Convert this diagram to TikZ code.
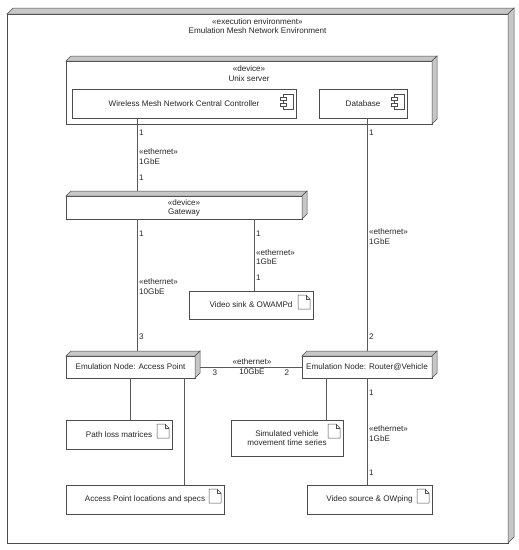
\documentclass[tikz,border=0pt]{standalone}
\usepackage{fontspec}
\setmainfont{Liberation Sans}
\usetikzlibrary{calc}
\tikzset{
  every node/.style={font=\fontsize{8.1}{9.2}\selectfont, text=black!85},
  ln/.style={draw=black!65, line width=0.6pt},
  front/.style={draw=black!70, fill=white, line width=0.6pt, rectangle, inner sep=0pt, outer sep=0pt},
  face/.style={draw=black!70, fill=black!22, line width=0.5pt},
  icon/.style={draw=black!70, fill=white, line width=0.5pt},
  lbl/.style={anchor=west, inner sep=1pt, align=left},
  ctr/.style={align=center, inner sep=0pt},
}
\newcommand\mkfaces[2]{%
  \filldraw[face] (#1.north west) -- ++(#2,-#2) -- ($(#1.north east)+(#2,-#2)$) -- (#1.north east) -- cycle;
  \filldraw[face] (#1.north east) -- ($(#1.north east)+(#2,-#2)$) -- ($(#1.south east)+(#2,-#2)$) -- (#1.south east) -- cycle;}
\newcommand\docicon[1]{%
  \draw[icon] ($(#1.north east)+(-15,4)$) -- ++(8,0) -- ++(4,4) -- ++(0,10) -- ++(-12,0) -- cycle;
  \draw[icon, fill=none] ($(#1.north east)+(-7,4)$) -- ++(0,4) -- ++(4,0);}
\newcommand\compicon[1]{%
  \draw[icon] ($(#1.north east)+(-13,5)$) rectangle ($(#1.north east)+(-3,20)$);
  \draw[icon] ($(#1.north east)+(-16,8)$) rectangle ($(#1.north east)+(-10,11)$);
  \draw[icon] ($(#1.north east)+(-16,14)$) rectangle ($(#1.north east)+(-10,17)$);}
\begin{document}
\begin{tikzpicture}[x=1pt, y=-1pt]
\useasboundingbox (0,0) rectangle (519,550);
% outer execution environment
\node[front, minimum width=501pt, minimum height=529pt] (env) at (257.5,278.5) {};
\node[ctr] (envt) at (257.5,26) {«execution environment»\\Emulation Mesh Network Environment};
% Unix server
\node[front, minimum width=366pt, minimum height=63pt] (unix) at (249,92.5) {};
\node[ctr] (unixt) at (249,73.5) {«device»\\Unix server};
\node[front, minimum width=224pt, minimum height=29pt] (wmn) at (184,103.5) {Wireless Mesh Network Central Controller};
\node[front, minimum width=88pt, minimum height=29pt] (db) at (363,103.5) {Database};
% Gateway
\node[front, minimum width=236pt, minimum height=23pt, align=center] (gw) at (184,207.5) {«device»\\Gateway};
% Video sink
\node[front, minimum width=124pt, minimum height=28pt] (vs) at (251,305) {Video sink \& OWAMPd};
% emulation nodes
\node[front, minimum width=129pt, minimum height=22pt] (ap) at (130.5,367) {Emulation Node: Access Point};
\node[front, minimum width=130pt, minimum height=22pt] (rt) at (367,367) {Emulation Node: Router@Vehicle};
% artifacts
\node[front, minimum width=106pt, minimum height=29pt] (pl) at (119,434.5) {Path loss matrices};
\node[front, minimum width=158pt, minimum height=29pt] (apl) at (145,499.5) {Access Point locations and specs};
\node[front, minimum width=112pt, minimum height=36pt, align=center] (sim) at (287,438) {Simulated vehicle\\movement time series};
\node[front, minimum width=125pt, minimum height=29pt] (vsrc) at (369.5,499.5) {Video source \& OWping};
% x positions of connectors
\coordinate (xa) at (137,0);
\coordinate (xc) at (254,0);
\coordinate (xd) at (367,0);
\coordinate (xp) at (130,0);
\coordinate (xq) at (184,0);
\coordinate (xs) at (326,0);
% connectors
\draw[ln] (xa |- wmn.south) -- (xa |- gw.north);
\draw[ln] (xa |- gw.south) -- (xa |- ap.north);
\draw[ln] (xc |- gw.south) -- (xc |- vs.north);
\draw[ln] (xd |- db.south) -- (xd |- rt.north);
\draw[ln] (xd |- rt.south) -- (xd |- vsrc.north);
\draw[ln] (ap.east) -- (rt.west);
\draw[ln] (xp |- ap.south) -- (xp |- pl.north);
\draw[ln] (xq |- ap.south) -- (xq |- apl.north);
\draw[ln] (xs |- rt.south) -- (xs |- sim.north);
% labels
\node[lbl] (la1) at (138,133) {1};
\node[lbl] (la2) at (138,156.5) {«ethernet»\\1GbE};
\node[lbl] (la3) at (138,178) {1};
\node[lbl] (lb1) at (138,234) {1};
\node[lbl] (lb2) at (138,286.5) {«ethernet»\\10GbE};
\node[lbl] (lb3) at (138,337) {3};
\node[lbl] (lc1) at (255,234) {1};
\node[lbl] (lc2) at (255,257) {«ethernet»\\1GbE};
\node[lbl] (lc3) at (255,278) {1};
\node[lbl] (ld1) at (368,133) {1};
\node[lbl] (ld2) at (368,236.5) {«ethernet»\\1GbE};
\node[lbl] (ld3) at (368,337) {2};
\node[lbl] (le1) at (368,393) {1};
\node[lbl] (le2) at (368,433.5) {«ethernet»\\1GbE};
\node[lbl] (le3) at (368,473) {1};
\node[ctr] (lh) at (252,366.5) {«ethernet»\\10GbE};
\node[ctr] (lh3) at (215,372.5) {3};
\node[ctr] (lh2) at (287,372.5) {2};
% 3D faces
\mkfaces{env}{6}
\mkfaces{unix}{5}
\mkfaces{gw}{5}
\mkfaces{ap}{5}
\mkfaces{rt}{5}
% icons
\compicon{wmn}
\compicon{db}
\docicon{vs}
\docicon{pl}
\docicon{apl}
\docicon{sim}
\docicon{vsrc}
\end{tikzpicture}
\end{document}
